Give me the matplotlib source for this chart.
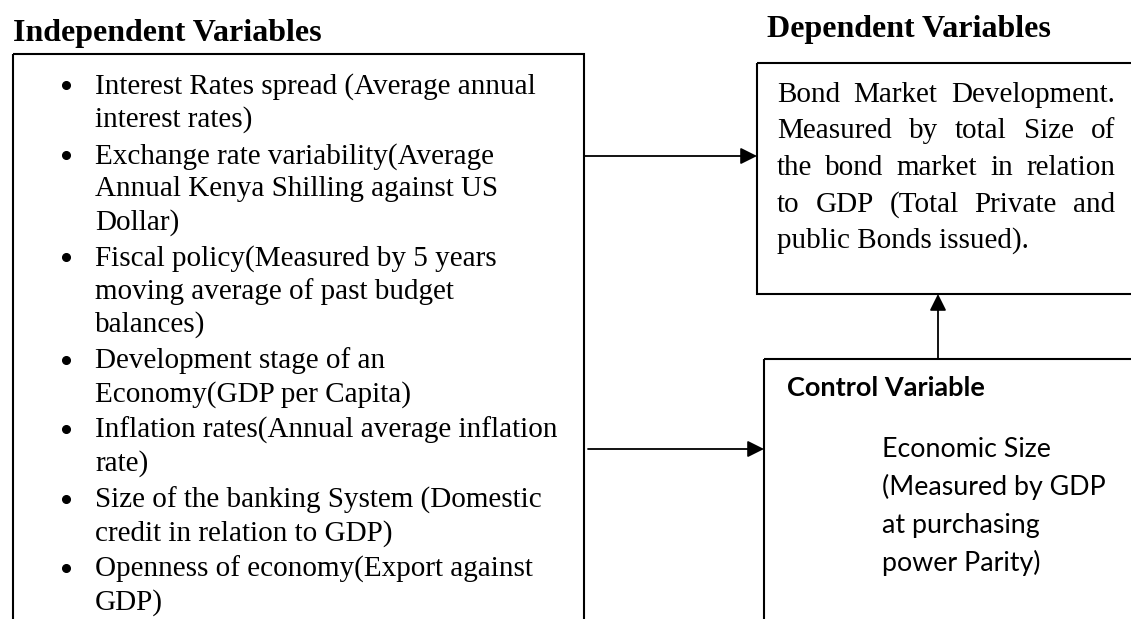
import matplotlib.pyplot as plt
from matplotlib.patches import Rectangle

# text content
title_left = 'Independent Variables'
title_right = 'Dependent Variables'
indep_items = [
    ['Interest Rates spread (Average annual', 'interest rates)'],
    ['Exchange rate variability(Average', 'Annual Kenya Shilling against US', 'Dollar)'],
    ['Fiscal policy(Measured by 5 years', 'moving average of past budget', 'balances)'],
    ['Development stage of an', 'Economy(GDP per Capita)'],
    ['Inflation rates(Annual average inflation', 'rate)'],
    ['Size of the banking System (Domestic', 'credit in relation to GDP)'],
    ['Openness of economy(Export against', 'GDP)'],
]
dep_lines = ['Bond Market Development.', 'Measured by total Size of',
             'the bond market in relation', 'to GDP (Total Private and',
             'public Bonds issued).']
ctrl_title = 'Control Variable'
ctrl_lines = ['Economic Size', '(Measured by GDP', 'at purchasing', 'power Parity)']

# canvas in pixel coordinates
W, H = 1131, 619
fig = plt.figure(figsize=(W / 100, H / 100), dpi=100, facecolor='w')
ax = fig.add_axes([0, 0, 1, 1])
ax.set_xlim(0, W)
ax.set_ylim(H, 0)
ax.axis('off')

serif = 'Liberation Serif'
sans = 'Lato'
fs = 21
lw_box = 1.5

# boxes (run off the page like the original)
ax.add_patch(Rectangle((13, 54), 584 - 13, 700, fill=False, lw=lw_box, ec='k'))
ax.add_patch(Rectangle((757, 63), 600, 294 - 63, fill=False, lw=lw_box, ec='k'))
ax.add_patch(Rectangle((764, 359), 600, 400, fill=False, lw=lw_box, ec='k'))

# titles
ax.text(13, 41, title_left, family=serif, weight='bold', fontsize=23, va='baseline')
ax.text(767, 37, title_right, family=serif, weight='bold', fontsize=23, va='baseline')

# bulleted list
k = 0
for j, lines in enumerate(indep_items):
    for i, s in enumerate(lines):
        y = 94 + 33 * k + 3.5 * j
        if i == 0:
            ax.plot(66, y - 9, 'o', ms=5.5, color='k')
        ax.text(95, y, s, family=serif, fontsize=fs, va='baseline')
        k += 1

# justified paragraph in dependent box
r = fig.canvas.get_renderer()
x0, x1 = 777, 1115
for i, s in enumerate(dep_lines):
    y = 102 + 36.5 * i
    words = s.split()
    if i == len(dep_lines) - 1:
        ax.text(x0, y, s, family=serif, fontsize=fs, va='baseline')
        continue
    arts = [ax.text(0, y, w, family=serif, fontsize=fs, va='baseline') for w in words]
    widths = [a.get_window_extent(r).width for a in arts]
    gap = (x1 - x0 - sum(widths)) / (len(words) - 1)
    x = x0
    for a, w in zip(arts, widths):
        a.set_x(x)
        x += w + gap

# control variable box
ax.text(787, 396, ctrl_title, family=sans, weight='bold', fontsize=19.5, va='baseline')
for i, s in enumerate(ctrl_lines):
    ax.text(882, 457 + 38 * i, s, family=sans, fontsize=19.3, va='baseline')

# arrows
aprops = dict(arrowstyle='-|>', color='k', lw=1.3, mutation_scale=25, shrinkA=0, shrinkB=0)
ax.annotate('', xy=(757, 156), xytext=(585, 156), arrowprops=aprops)
ax.annotate('', xy=(764, 449), xytext=(588, 449), arrowprops=aprops)
ax.annotate('', xy=(938, 294), xytext=(938, 359), arrowprops=aprops)

plt.savefig('out.png', dpi=100)
